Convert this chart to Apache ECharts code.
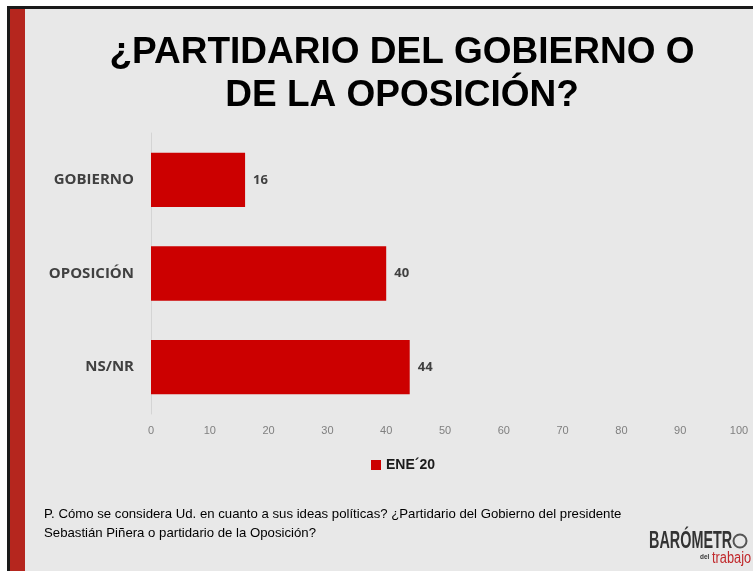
<!DOCTYPE html>
<html>
<head>
<meta charset="utf-8">
<script src="https://cdn.jsdelivr.net/npm/echarts@6/dist/echarts.min.js"></script>
<style>
  html, body { margin: 0; padding: 0; background: #fff; }
  #chart { width: 753px; height: 571px; }
</style>
</head>
<body>
<div id="chart"></div>
<script>
const categories = ['GOBIERNO', 'OPOSICIÓN', 'NS/NR']
const values = [16, 40, 44]
const seriesName = 'ENE´20'
const titleLines = ['¿PARTIDARIO DEL GOBIERNO O', 'DE LA OPOSICIÓN?']
const footnote = [
  'P. Cómo se considera Ud. en cuanto a sus ideas políticas? ¿Partidario del Gobierno del presidente',
  'Sebastián Piñera o partidario de la Oposición?',
]

const chart = echarts.init(document.getElementById('chart'))

const option = {
  backgroundColor: '#ffffff',
  animation: false,
  title: {
    text: titleLines.join('\n'),
    left: 397,
    textAlign: 'center',
    top: 26,
    textStyle: {
      fontFamily: 'Liberation Sans, Arial',
      fontSize: 37,
      fontWeight: 'bold',
      color: '#000000',
      lineHeight: 43,
    },
  },
  legend: {
    data: [seriesName],
    left: 366,
    top: 453,
    icon: 'rect',
    itemWidth: 10,
    itemHeight: 10,
    itemGap: 5,
    textStyle: {
      fontFamily: 'Liberation Sans, Arial',
      fontSize: 14,
      fontWeight: 'bold',
      color: '#1a1a1a',
    },
  },
  grid: {
    left: 151,
    right: 14,
    top: 133,
    bottom: 157,
    containLabel: false,
  },
  xAxis: {
    type: 'value',
    min: 0,
    max: 100,
    interval: 10,
    axisLine: { show: false },
    axisTick: { show: false },
    splitLine: { show: false },
    axisLabel: {
      color: '#7f7f7f',
      fontSize: 11,
      fontFamily: 'Liberation Sans, Arial',
      margin: 11,
    },
  },
  yAxis: {
    type: 'category',
    data: categories,
    inverse: true,
    axisLine: { show: true, lineStyle: { color: '#d4d4d4', width: 1 } },
    axisTick: { show: false },
    axisLabel: {
      color: '#404040',
      fontSize: 15,
      fontWeight: 'bold',
      fontFamily: 'Open Sans, Liberation Sans, Arial',
      margin: 17,
    },
  },
  series: [
    {
      name: seriesName,
      type: 'bar',
      data: values,
      barCategoryGap: '42%',
      itemStyle: { color: '#cc0000' },
      label: {
        show: true,
        position: 'right',
        distance: 8,
        color: '#404040',
        fontSize: 13,
        fontWeight: 'bold',
        fontFamily: 'Open Sans, Liberation Sans, Arial',
      },
    },
  ],
  graphic: [
    // panel background and frame
    { type: 'rect', z: -10, shape: { x: 10, y: 9, width: 743, height: 562 }, style: { fill: '#e8e8e8' } },
    { type: 'rect', z: -9, shape: { x: 7, y: 6, width: 746, height: 3 }, style: { fill: '#1a1a1a' } },
    { type: 'rect', z: -9, shape: { x: 7, y: 6, width: 3, height: 565 }, style: { fill: '#1a1a1a' } },
    { type: 'rect', z: -9, shape: { x: 10, y: 9, width: 15, height: 562 }, style: { fill: '#b5261e' } },
    // footnote
    {
      type: 'text',
      left: 44,
      top: 505,
      style: {
        text: footnote.join('\n'),
        font: '13.2px "Liberation Sans", Arial',
        lineHeight: 19,
        fill: '#000000',
      },
    },
    // logo
    {
      type: 'text',
      x: 649,
      y: 529,
      scaleX: 0.6,
      style: {
        text: 'BARÓMETR',
        font: 'bold 24px "Liberation Sans", Arial',
        fill: '#333333',
      },
    },
    {
      type: 'circle',
      shape: { cx: 740, cy: 541, r: 6.5 },
      style: { fill: 'none', stroke: '#555555', lineWidth: 2 },
    },
    {
      type: 'text',
      x: 712,
      y: 551,
      scaleX: 0.8,
      style: {
        text: 'trabajo',
        font: '16px "Liberation Sans", Arial',
        fill: '#c0282b',
      },
    },
    {
      type: 'text',
      x: 700,
      y: 553,
      scaleX: 0.8,
      style: {
        text: 'del',
        font: 'bold 8px "Liberation Sans", Arial',
        fill: '#333333',
      },
    },
  ],
}

chart.setOption(option)
</script>
</body>
</html>
